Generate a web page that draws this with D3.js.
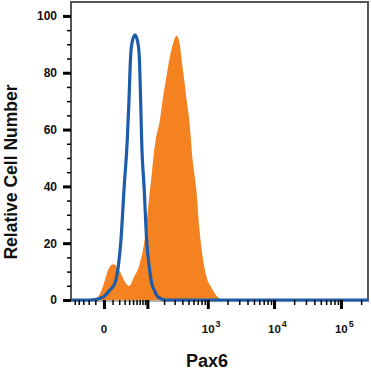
<!DOCTYPE html>
<html>
<head>
<meta charset="utf-8">
<script src="https://cdn.jsdelivr.net/npm/d3@7"></script>
<style>
  body { margin: 0; background: #fff; }
  text { font-family: "Liberation Sans", Arial, sans-serif; font-weight: bold; fill: #111; }
</style>
</head>
<body>
<div id="chart"></div>
<script>
// Pax6 staining (orange, filled) vs isotype control (blue outline)
// x values in fluorescence units, y in relative cell number (%)

var pax6X = [-61, -12, -2.4, 1.0, 4.3, 10.9, 21.3, 28.7, 39.5, 52.3, 70.9, 89.7, 102.5, 111.9, 121.9, 132.7, 144.2, 169.7, 189, 215, 244.6, 278.4, 323.7, 366, 389.8, 429, 468, 515, 582, 632, 672, 738, 851, 960, 1146, 1429, 1826, 262144]
var pax6Y = [0, 0, 3.5, 7, 10.5, 12.6, 10, 7, 4.9, 8, 13, 22, 31.7, 38.7, 45, 52, 57, 63.4, 70.4, 77.5, 84.5, 89.8, 93, 89.8, 84.5, 77.5, 70.4, 63.4, 49.3, 43, 37.7, 25.7, 14, 8, 4.2, 1, 0, 0]

var isoX = [-61, -18, -1.0, 6.6, 13.3, 18.4, 23.0, 28.7, 35.6, 39.5, 43.1, 46.1, 55.2, 65.3, 69.3, 73.4, 76.9, 86.9, 96.8, 108.6, 120.4, 134.4, 158.4, 215, 262144]
var isoY = [0, 0, 1, 3.5, 6, 11.7, 21, 38.7, 56.3, 70, 84.5, 89.8, 93.3, 89.8, 84.5, 70, 56.3, 38.7, 21, 11.7, 6, 3.5, 1, 0, 0]

var yMajor = [0, 20, 40, 60, 80, 100]
var yMinor = [5, 10, 15, 25, 30, 35, 45, 50, 55, 65, 70, 75, 85, 90, 95]
var xMajor = [0, 100, 1000, 10000, 100000]
var xMinor = [-50, -40, -30, -20, -10, 10, 20, 30, 40, 50, 60, 70, 80, 90,
  200, 300, 400, 500, 600, 700, 800, 900,
  2000, 3000, 4000, 5000, 6000, 7000, 8000, 9000,
  20000, 30000, 40000, 50000, 60000, 70000, 80000, 90000, 200000]
var xLabels = [{ v: 0, base: '0', sup: '' }, { v: 1000, base: '10', sup: '3' }, { v: 10000, base: '10', sup: '4' }, { v: 100000, base: '10', sup: '5' }]

var svgW = 371, svgH = 372
var margin = { top: 2, left: 71, right: 2, bottom: 72 }
var width = svgW - margin.left - margin.right
var height = svgH - margin.top - margin.bottom

var svg = d3.select('#chart').append('svg')
  .attr('width', svgW)
  .attr('height', svgH)

var g = svg.append('g')
  .attr('transform', 'translate(' + margin.left + ',' + margin.top + ')')

var xPositionScale = d3.scaleSymlog()
  .constant(29)
  .domain([-61, 262144])
  .range([0, width])

var yPositionScale = d3.scaleLinear()
  .domain([0, 104.9])
  .range([height, 0])

g.append('clipPath').attr('id', 'plot-clip')
  .append('rect').attr('width', width).attr('height', height + 2)

var area = d3.area()
  .x(function(d) { return xPositionScale(d[0]) })
  .y0(yPositionScale(0))
  .y1(function(d) { return yPositionScale(d[1]) })
  .curve(d3.curveMonotoneX)

var line = d3.line()
  .x(function(d) { return xPositionScale(d[0]) })
  .y(function(d) { return yPositionScale(d[1]) })
  .curve(d3.curveMonotoneX)

// bottom grey axis line
g.append('line')
  .attr('x1', 0).attr('x2', width)
  .attr('y1', height + 1).attr('y2', height + 1)
  .attr('stroke', '#999').attr('stroke-width', 1.5)

var plot = g.append('g').attr('clip-path', 'url(#plot-clip)')

plot.append('path')
  .datum(d3.zip(pax6X, pax6Y))
  .attr('d', area)
  .attr('fill', '#f58220')

plot.append('path')
  .datum(d3.zip(isoX, isoY))
  .attr('d', line)
  .attr('fill', 'none')
  .attr('stroke', '#1c5caa')
  .attr('stroke-width', 3.2)

// frame
g.append('path')
  .attr('d', 'M0,' + height + 'V0H' + (width - 1) + 'V' + height)
  .attr('fill', 'none')
  .attr('stroke', '#555')
  .attr('stroke-width', 2)

// y axis
var yAxisMajor = d3.axisLeft(yPositionScale).tickValues(yMajor).tickSize(8).tickPadding(6)
g.append('g').attr('class', 'axis y-axis').call(yAxisMajor)
var yAxisMinor = d3.axisLeft(yPositionScale).tickValues(yMinor).tickSize(4).tickFormat('')
g.append('g').attr('class', 'axis y-axis-minor').call(yAxisMinor)

// x axis
var xAxisMajor = d3.axisBottom(xPositionScale).tickValues(xMajor).tickSize(9).tickFormat('')
g.append('g').attr('class', 'axis x-axis')
  .attr('transform', 'translate(0,' + height + ')')
  .call(xAxisMajor)
var xAxisMinor = d3.axisBottom(xPositionScale).tickValues(xMinor).tickSize(5).tickFormat('')
g.append('g').attr('class', 'axis x-axis-minor')
  .attr('transform', 'translate(0,' + height + ')')
  .call(xAxisMinor)

g.selectAll('.axis .domain').remove()
g.selectAll('.y-axis .tick line, .x-axis .tick line').attr('stroke', '#000').attr('stroke-width', 3)
g.selectAll('.y-axis-minor .tick line, .x-axis-minor .tick line').attr('stroke', '#000').attr('stroke-width', 1.5)
g.selectAll('.y-axis text').attr('font-size', 12).attr('font-family', '"Liberation Sans", Arial, sans-serif').attr('font-weight', 'bold').attr('fill', '#111')

var xl = g.selectAll('.x-label')
  .data(xLabels)
  .enter()
  .append('text')
  .attr('class', 'x-label')
  .attr('x', function(d) { return xPositionScale(d.v) + (d.sup ? -6 : 0) })
  .attr('y', height + 33)
  .attr('font-size', 11.5)
  .attr('text-anchor', function(d) { return d.sup ? 'start' : 'middle' })

xl.append('tspan').text(function(d) { return d.base })
xl.append('tspan')
  .attr('font-size', 9)
  .attr('dy', -6)
  .attr('dx', 1)
  .text(function(d) { return d.sup })

// axis titles
svg.append('text')
  .text('Pax6')
  .attr('x', 207)
  .attr('y', 367)
  .attr('text-anchor', 'middle')
  .attr('font-size', 18)

svg.append('text')
  .text('Relative Cell Number')
  .attr('transform', 'translate(17,' + 172 + ') rotate(-90)')
  .attr('text-anchor', 'middle')
  .attr('font-size', 17.5)
</script>
</body>
</html>
